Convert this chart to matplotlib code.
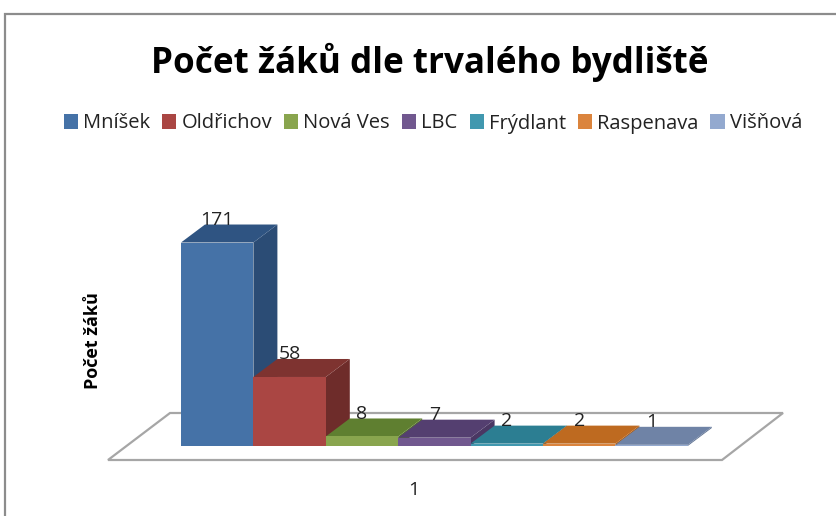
import matplotlib
matplotlib.use('Agg')
import matplotlib.pyplot as plt
from matplotlib.patches import Patch, Rectangle

plt.rcParams['font.family'] = ['Open Sans', 'DejaVu Sans']

W, H = 837, 516

# data
mista = ['Mníšek', 'Oldřichov', 'Nová Ves', 'LBC', 'Frýdlant', 'Raspenava', 'Višňová']
pocty = [171, 58, 8, 7, 2, 2, 1]

# colors: front, top, side
c_front = ['#4572A7', '#AA4643', '#89A54E', '#71588F', '#4198AF', '#DB843D', '#93A9CF']
c_top = ['#2F5482', '#7E3330', '#5F7F30', '#543F70', '#2C7E92', '#BE6A20', '#6F83A6']
c_side = ['#2B4C75', '#6E2C2A', '#55722B', '#4A3763', '#276F81', '#A85D1C', '#627594']

# pixel scale of the chart
px_x = 72.4    # one category
px_y = 1.19    # one pupil
x0_px = 181    # left edge of the first bar
y0_px = 446    # base line of the bars
dx = 24 / px_x    # depth of the pseudo 3D
dy = 18 / px_y

fig = plt.figure(figsize=(W / 100, H / 100), dpi=100)
ax = fig.add_axes([0, 0, 1, 1])
ax.set_xlim(-x0_px / px_x, (W - x0_px) / px_x)
ax.set_ylim(-(H - y0_px) / px_y, y0_px / px_y)
ax.axis('off')

# outer frame
fig.add_artist(Rectangle((5 / W, -0.1), 1.1, 1.1 - 14 / H, transform=fig.transFigure,
                         fill=False, edgecolor='#8c8c8c', linewidth=1.6))

# floor
fl_x = [(108 - x0_px) / px_x, (722 - x0_px) / px_x, (783 - x0_px) / px_x, (170 - x0_px) / px_x]
fl_y = [(y0_px - 460) / px_y, (y0_px - 460) / px_y, (y0_px - 413) / px_y, (y0_px - 413) / px_y]
ax.fill(fl_x, fl_y, facecolor='white', edgecolor='#a6a6a6', linewidth=1.6, zorder=1)

# bars, left to right so that each one covers the side of the previous one
for i, (v, f, t, s) in enumerate(zip(pocty, c_front, c_top, c_side)):
    z = 2 + i
    ax.fill([i + 1, i + 1 + dx, i + 1 + dx, i + 1], [0, dy, v + dy, v], color=s, lw=0, zorder=z)
    ax.fill([i, i + 1, i + 1 + dx, i + dx], [v, v, v + dy, v + dy], color=t, lw=0, zorder=z)
    ax.bar(i, v, width=1, align='edge', color=f, zorder=z)
    ax.text(i + 0.5, v + dy - 0.5 / px_y, str(v), ha='center', va='baseline',
            fontsize=14, color='#222222', zorder=20)

fig.text(430 / W, 1 - 62 / H, 'Počet žáků dle trvalého bydliště', ha='center', va='center',
         fontsize=25.2, fontweight='bold', color='black')

handles = [Patch(facecolor=c, label=m) for m, c in zip(mista, c_front)]
fig.legend(handles=handles, loc='center', bbox_to_anchor=(433 / W, 1 - 123.5 / H), ncols=7, frameon=False,
           fontsize=14.5, handlelength=0.7, handleheight=0.7, handletextpad=0.25,
           columnspacing=0.6, borderpad=0, labelcolor='#222222')

fig.text(93 / W, 1 - 341 / H, 'Počet žáků', rotation=90, ha='center', va='center',
         fontsize=13, fontweight='bold', color='black')
fig.text(414 / W, 1 - 490 / H, '1', ha='center', va='center', fontsize=14, color='#222222')

fig.savefig('out.png', dpi=100)
